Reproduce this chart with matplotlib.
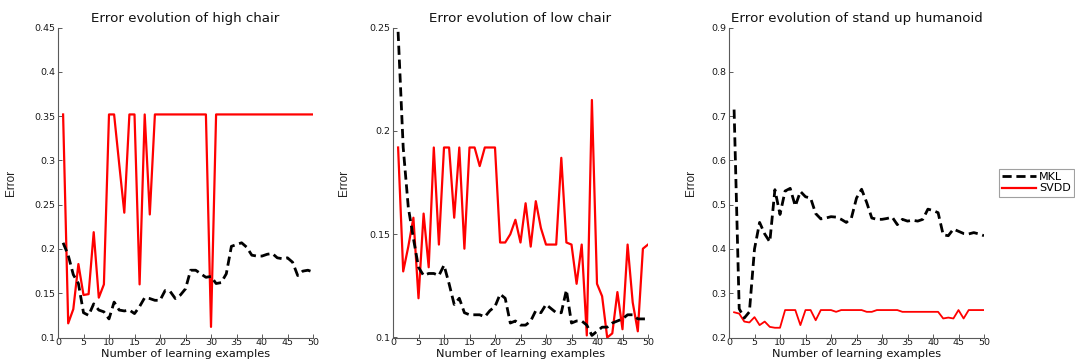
import numpy as np
import matplotlib
matplotlib.use("Agg")
import matplotlib.pyplot as plt
from matplotlib.lines import Line2D

plt.rcParams['font.family'] = ['DejaVu Sans']

# ---------------- data ----------------
examples = np.arange(1, 51)

high_chair_mkl = [0.207, 0.193, 0.171, 0.161, 0.128, 0.125, 0.138, 0.131, 0.129, 0.121,
                  0.140, 0.131, 0.130, 0.131, 0.127, 0.135, 0.145, 0.144, 0.142, 0.142,
                  0.153, 0.152, 0.144, 0.148, 0.155, 0.176, 0.176, 0.172, 0.168, 0.169,
                  0.161, 0.162, 0.172, 0.203, 0.205, 0.207, 0.202, 0.193, 0.192, 0.192,
                  0.194, 0.195, 0.190, 0.189, 0.190, 0.185, 0.170, 0.175, 0.176, 0.174]
high_chair_svdd = [0.352, 0.116, 0.132, 0.183, 0.148, 0.149, 0.219, 0.145, 0.160, 0.352,
                   0.352, 0.296, 0.241, 0.352, 0.352, 0.160, 0.352, 0.239, 0.352, 0.352,
                   0.352, 0.352, 0.352, 0.352, 0.352, 0.352, 0.352, 0.352, 0.352, 0.112,
                   0.352, 0.352, 0.352, 0.352, 0.352, 0.352, 0.352, 0.352, 0.352, 0.352,
                   0.352, 0.352, 0.352, 0.352, 0.352, 0.352, 0.352, 0.352, 0.352, 0.352]

low_chair_mkl = [0.248, 0.192, 0.163, 0.148, 0.134, 0.130, 0.131, 0.131, 0.130, 0.135,
                 0.126, 0.116, 0.119, 0.112, 0.111, 0.111, 0.111, 0.110, 0.113, 0.115,
                 0.121, 0.119, 0.107, 0.108, 0.106, 0.106, 0.108, 0.113, 0.112, 0.116,
                 0.114, 0.112, 0.112, 0.123, 0.107, 0.108, 0.108, 0.106, 0.101, 0.103,
                 0.105, 0.105, 0.107, 0.108, 0.109, 0.111, 0.111, 0.109, 0.109, 0.109]
low_chair_svdd = [0.192, 0.132, 0.144, 0.158, 0.119, 0.160, 0.134, 0.192, 0.145, 0.192,
                  0.192, 0.158, 0.192, 0.143, 0.192, 0.192, 0.183, 0.192, 0.192, 0.192,
                  0.146, 0.146, 0.150, 0.157, 0.146, 0.165, 0.144, 0.166, 0.153, 0.145,
                  0.145, 0.145, 0.187, 0.146, 0.145, 0.126, 0.145, 0.101, 0.215, 0.126,
                  0.120, 0.100, 0.102, 0.122, 0.104, 0.145, 0.117, 0.103, 0.143, 0.145]

humanoid_mkl = [0.715, 0.265, 0.244, 0.258, 0.400, 0.460, 0.434, 0.416, 0.534, 0.478,
                0.531, 0.537, 0.497, 0.530, 0.518, 0.515, 0.480, 0.468, 0.470, 0.473,
                0.472, 0.467, 0.460, 0.470, 0.515, 0.535, 0.505, 0.470, 0.467, 0.467,
                0.469, 0.472, 0.455, 0.467, 0.463, 0.465, 0.463, 0.467, 0.490, 0.487,
                0.482, 0.432, 0.430, 0.445, 0.440, 0.435, 0.434, 0.437, 0.434, 0.430]
humanoid_svdd = [0.257, 0.254, 0.236, 0.234, 0.246, 0.228, 0.236, 0.224, 0.222, 0.222,
                 0.262, 0.262, 0.262, 0.228, 0.262, 0.262, 0.239, 0.262, 0.262, 0.262,
                 0.258, 0.262, 0.262, 0.262, 0.262, 0.262, 0.258, 0.258, 0.262, 0.262,
                 0.262, 0.262, 0.262, 0.258, 0.258, 0.258, 0.258, 0.258, 0.258, 0.258,
                 0.258, 0.243, 0.245, 0.243, 0.262, 0.243, 0.262, 0.262, 0.262, 0.262]

titles = ["Error evolution of high chair",
          "Error evolution of low chair",
          "Error evolution of stand up humanoid"]
ytick_values = [[0.1, 0.15, 0.2, 0.25, 0.3, 0.35, 0.4, 0.45],
                [0.1, 0.15, 0.2, 0.25],
                [0.2, 0.3, 0.4, 0.5, 0.6, 0.7, 0.8, 0.9]]
ytick_labels = [["0.1", "0.15", "0.2", "0.25", "0.3", "0.35", "0.4", "0.45"],
                ["0.1", "0.15", "0.2", "0.25"],
                ["0.2", "0.3", "0.4", "0.5", "0.6", "0.7", "0.8", "0.9"]]
xtick_values = [0, 5, 10, 15, 20, 25, 30, 35, 40, 45, 50]
series_labels = ["MKL", "SVDD"]
xlabel = "Number of learning examples"
ylabel = "Error"

mkl_series = [high_chair_mkl, low_chair_mkl, humanoid_mkl]
svdd_series = [high_chair_svdd, low_chair_svdd, humanoid_svdd]

# ---------------- figure ----------------
W, H = 1075, 362
fig = plt.figure(figsize=(W / 100, H / 100), dpi=100)
fig.patch.set_facecolor("white")

lefts_px = [58, 393, 729]
ax_w_px = 255
bottom_px, top_px = 337.5, 27.7
ylabel_off = [-0.16, -0.17, -0.125]
svdd_lw = [1.6, 1.6, 1.3]

mkl_kw = dict(color="black", linewidth=2.0, linestyle=(0, (3.3, 1.7)))
spine_col = "#5a5a5a"
narrow = ['Liberation Sans Narrow', 'Liberation Sans', 'DejaVu Sans']

for i in range(3):
    ax = fig.add_axes([lefts_px[i] / W, 1 - bottom_px / H,
                       ax_w_px / W, (bottom_px - top_px) / H])
    ax.plot(examples, svdd_series[i], color="#ff0000", linewidth=svdd_lw[i],
            zorder=2, clip_on=True)
    ax.plot(examples, mkl_series[i], zorder=3, **mkl_kw)
    ax.set_xlim(0, 50)
    ax.set_ylim(ytick_values[i][0], ytick_values[i][-1])
    ax.set_xticks(xtick_values)
    ax.set_xticklabels([str(v) for v in xtick_values])
    ax.set_yticks(ytick_values[i])
    ax.set_yticklabels(ytick_labels[i])
    for s in ["top", "right"]:
        ax.spines[s].set_visible(False)
    for s in ["left", "bottom"]:
        ax.spines[s].set_color(spine_col)
        ax.spines[s].set_linewidth(0.8)
    ax.tick_params(direction="in", length=3, width=0.7, color=spine_col,
                   labelsize=6.8, labelcolor="#1a1a1a")
    ax.tick_params(axis="x", pad=0.5)
    ax.tick_params(axis="y", pad=2)
    ax.set_title(titles[i], fontsize=9.6, pad=4, color="#111111")
    ax.set_xlabel(xlabel, fontsize=8.2, color="#111111", va="top")
    ax.xaxis.set_label_coords(0.5, -(11.6 / (bottom_px - top_px)))
    ax.set_ylabel(ylabel, fontsize=8.5, color="#222222", family=narrow)
    ax.yaxis.set_label_coords(ylabel_off[i], 0.5)

handles = [Line2D([0], [0], **mkl_kw),
           Line2D([0], [0], color="#ff0000", linewidth=1.6)]
leg = fig.legend(handles, series_labels, loc="upper left",
                 bbox_to_anchor=(999 / W, 1 - 169 / H), fontsize=8,
                 frameon=True, fancybox=False, edgecolor="#888888",
                 borderpad=0.3, labelspacing=0.1, handlelength=3.0,
                 handletextpad=0.3, borderaxespad=0)
leg.get_frame().set_linewidth(0.8)

fig.savefig("out.png", dpi=100, facecolor="white")
